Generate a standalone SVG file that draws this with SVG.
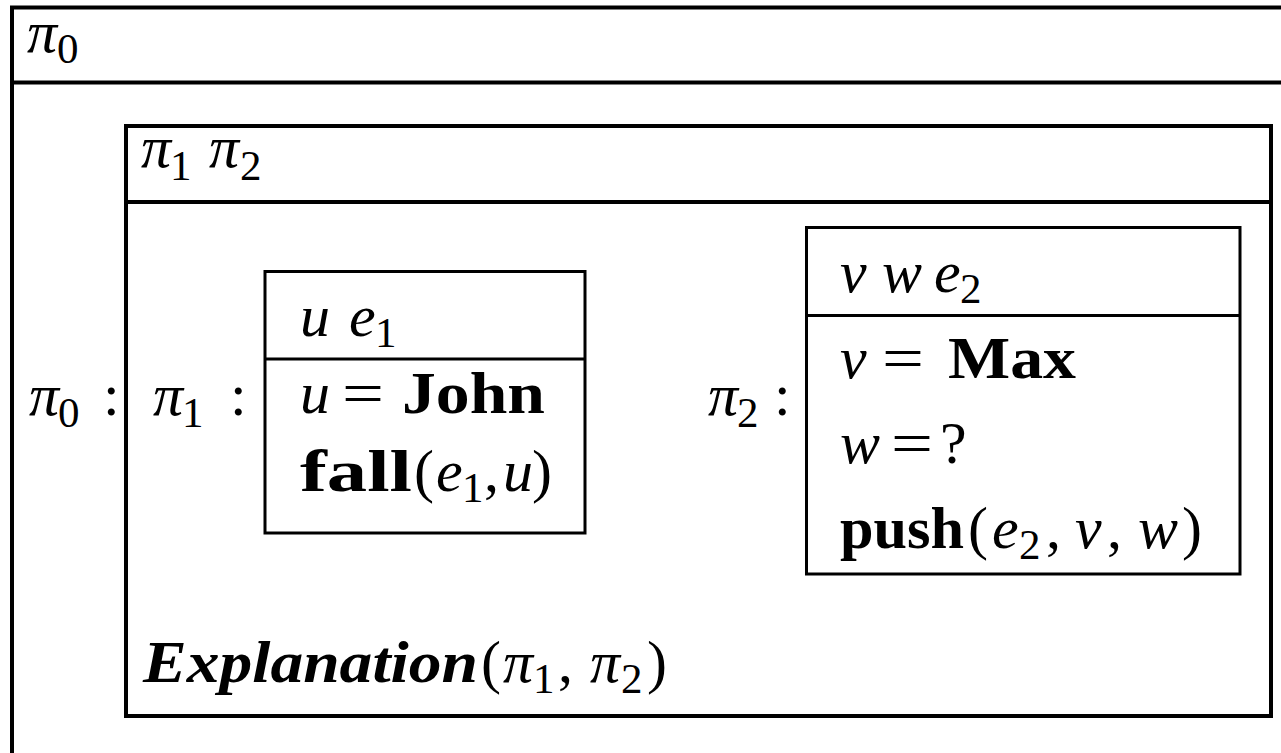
<svg xmlns="http://www.w3.org/2000/svg" width="1281" height="753" viewBox="0 0 1281 753">
<style>
.thick{fill:none;stroke:#000;stroke-width:4}
.thin{fill:none;stroke:#000;stroke-width:3}
text{font-family:"Liberation Serif","DejaVu Serif",serif;font-size:60px;fill:#000}
.i{font-style:italic}
.bd{font-weight:bold}
.bi{font-weight:bold;font-style:italic}
.sub{font-size:43px}
</style>
<rect width="1281" height="753" fill="#fff"/>
<g id="pi0-box">
<path class="thick" d="M12,753 V7.5 H1281 M12,82.5 H1281"/>
<text x="27" y="52" class="i">π</text><text x="57" y="63" class="sub">0</text>
<text x="29" y="415" class="i">π</text><text x="58" y="427" class="sub">0</text><text x="103" y="415">:</text>
</g>
<g id="outer-drs">
<rect class="thick" x="126" y="126" width="1145" height="590"/>
<path class="thick" d="M126,202 H1271"/>
<text x="141" y="167" class="i">π</text><text x="170" y="180" class="sub">1</text>
<text x="209" y="167" class="i">π</text><text x="240" y="180" class="sub">2</text>
<text x="143" y="682" class="bi" textLength="335" lengthAdjust="spacingAndGlyphs">Explanation</text>
<text x="481" y="682">(</text><text x="503" y="682" class="i">π</text><text x="533" y="693" class="sub">1</text>
<text x="558" y="682">,</text><text x="590" y="682" class="i">π</text><text x="621" y="693" class="sub">2</text>
<text x="647" y="682">)</text>
</g>
<g id="pi1">
<text x="153" y="415" class="i">π</text><text x="182" y="427" class="sub">1</text><text x="230" y="415">:</text>
<rect class="thin" x="265" y="271.5" width="320" height="261.5"/>
<path class="thin" d="M265,359 H585"/>
<text x="300" y="336" class="i">u</text><text x="349" y="336" class="i">e</text><text x="375" y="347" class="sub">1</text>
<text x="300" y="413" class="i">u</text><text x="342" y="413" textLength="42" lengthAdjust="spacingAndGlyphs">=</text><text x="402" y="413" class="bd" textLength="143" lengthAdjust="spacingAndGlyphs">John</text>
<text x="300" y="491" class="bd" textLength="112" lengthAdjust="spacingAndGlyphs">fall</text><text x="414" y="491">(</text><text x="436" y="491" class="i">e</text><text x="462" y="502" class="sub">1</text><text x="484" y="491">,</text><text x="503" y="491" class="i">u</text><text x="532" y="491">)</text>
</g>
<g id="pi2">
<text x="708" y="415" class="i">π</text><text x="737" y="427" class="sub">2</text><text x="774" y="415">:</text>
<rect class="thin" x="806.5" y="227.5" width="433.5" height="346.5"/>
<path class="thin" d="M806.5,315.5 H1240"/>
<text x="840" y="292" class="i">v</text><text x="882" y="292" class="i">w</text><text x="934" y="292" class="i">e</text><text x="960" y="303" class="sub">2</text>
<text x="840" y="378" class="i">v</text><text x="882" y="378" textLength="42" lengthAdjust="spacingAndGlyphs">=</text><text x="948" y="378" class="bd" textLength="128" lengthAdjust="spacingAndGlyphs">Max</text>
<text x="840" y="463" class="i">w</text><text x="891" y="463" textLength="42" lengthAdjust="spacingAndGlyphs">=</text><text x="940" y="463">?</text>
<text x="840" y="548" class="bd" textLength="124" lengthAdjust="spacingAndGlyphs">push</text><text x="968" y="548">(</text><text x="992" y="548" class="i">e</text><text x="1019" y="559" class="sub">2</text><text x="1046" y="548">,</text><text x="1075" y="548" class="i">v</text><text x="1107" y="548">,</text><text x="1138" y="548" class="i">w</text><text x="1182" y="548">)</text>
</g>
</svg>
